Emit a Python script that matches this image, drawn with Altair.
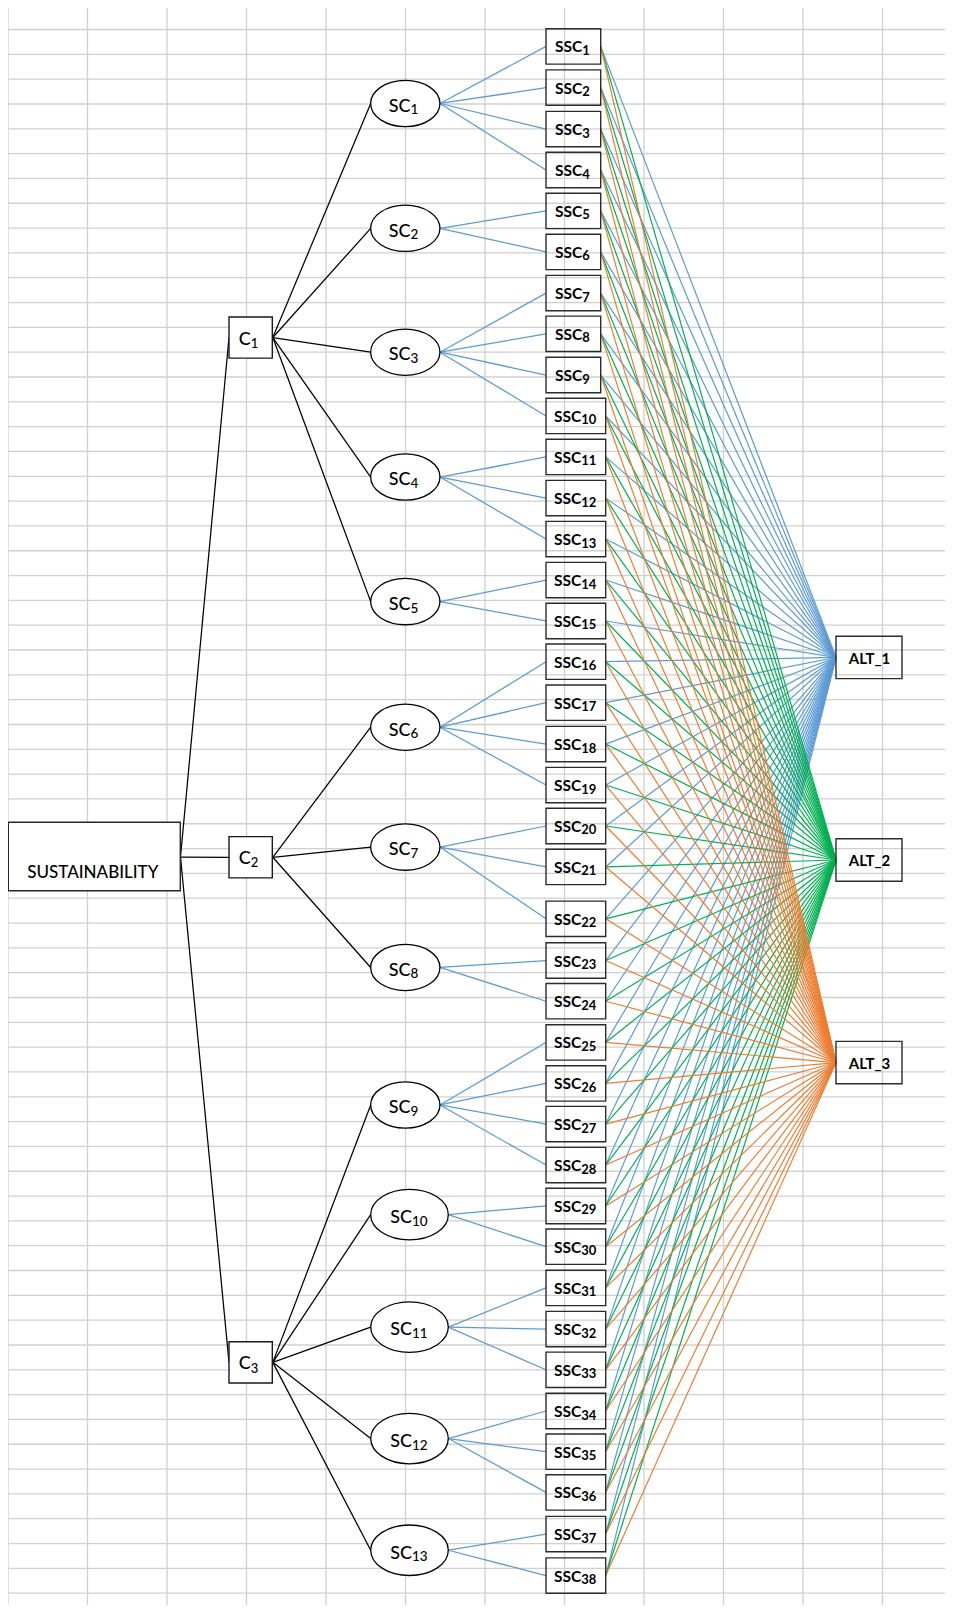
import altair as alt
import pandas as pd

# ---------------- data (positions in spreadsheet cell units) ----------------
grid_cols = [0, 1, 2, 3, 4, 5, 6, 7, 8, 9, 10, 11]
grid_rows = [1, 2, 3, 4, 5, 6, 7, 8, 9, 10, 11, 12, 13, 14, 15, 16, 17, 18, 19, 20,
             21, 22, 23, 24, 25, 26, 27, 28, 29, 30, 31, 32, 33, 34, 35, 36, 37, 38, 39, 40,
             41, 42, 43, 44, 45, 46, 47, 48, 49, 50, 51, 52, 53, 54, 55, 56, 57, 58, 59, 60,
             61, 62, 63, 64]

root_label = "SUSTAINABILITY"
root_row = 34.32

c_nums = [1, 2, 3]
c_rows = [13.41, 34.35, 54.70]

sc_nums = [1, 2, 3, 4, 5, 6, 7, 8, 9, 10, 11, 12, 13]
sc_parent = [1, 1, 1, 1, 1, 2, 2, 2, 3, 3, 3, 3, 3]
sc_rows = [3.98, 9.01, 14.00, 19.03, 24.05, 29.11, 33.94, 38.79, 44.33, 48.75, 53.28, 57.77, 62.27]

ssc_nums = list(range(1, 39))
ssc_parent = [1, 1, 1, 1, 2, 2, 3, 3, 3, 3, 4, 4, 4, 5, 5, 6, 6, 6, 6, 7, 7, 7,
              8, 8, 9, 9, 9, 9, 10, 10, 11, 11, 11, 12, 12, 12, 13, 13]
ssc_rows = [1.68, 3.34, 5.01, 6.66, 8.31, 9.96, 11.62, 13.26, 14.92, 16.57,
            18.22, 19.88, 21.53, 23.18, 24.83, 26.47, 28.12, 29.79, 31.44, 33.09,
            34.74, 36.83, 38.51, 40.15, 41.81, 43.46, 45.10, 46.75, 48.40, 50.04,
            51.70, 53.36, 55.00, 56.66, 58.30, 59.94, 61.62, 63.29]

alt_labels = ["ALT_1", "ALT_2", "ALT_3"]
alt_rows = [26.30, 34.46, 42.62]
alt_colors = ["#5B9BD5", "#00B050", "#ED7D31"]

# ---------------- layout helpers ----------------
CELL_W, CELL_H = 79.5, 24.82
GRID_LEFT, GRID_TOP = 8.0, 4.7


def col(px):
    return (px - GRID_LEFT) / CELL_W


def rws(px):
    return px / CELL_H


W, H = 937, 1597
xs = alt.Scale(domain=[col(8), col(8 + W)], nice=False, zero=False)
ys = alt.Scale(domain=[(8 - GRID_TOP) / CELL_H, (8 + H - GRID_TOP) / CELL_H],
               nice=False, zero=False, reverse=True)


def X(f):
    return alt.X(f, type="quantitative", scale=xs, axis=None)


def Y(f):
    return alt.Y(f, type="quantitative", scale=ys, axis=None)


FONT = "Lato"

# ---------------- grid ----------------
vgrid = alt.Chart(pd.DataFrame({"x": grid_cols})).mark_rule(
    color="#d0d0d0", strokeWidth=1.3).encode(x=X("x"))
hgrid = alt.Chart(pd.DataFrame({"y": grid_rows})).mark_rule(
    color="#d0d0d0", strokeWidth=1.3).encode(y=Y("y"))

# ---------------- edges ----------------
black = []
for n, r in zip(c_nums, c_rows):
    black.append({"x": col(180.5), "y": root_row + rws(0.5), "x2": col(229), "y2": r})
for n, p, r in zip(sc_nums, sc_parent, sc_rows):
    black.append({"x": col(272.8), "y": c_rows[p - 1], "x2": col(370.7), "y2": r})
black_df = pd.DataFrame(black)

blue = []
for n, p, r in zip(ssc_nums, ssc_parent, ssc_rows):
    sc_right = col(440) if sc_nums[p - 1] < 10 else col(448.3)
    blue.append({"x": sc_right, "y": sc_rows[p - 1], "x2": col(546), "y2": r})
blue_df = pd.DataFrame(blue)


def seg_chart(df, color, width):
    return alt.Chart(df).mark_rule(color=color, strokeWidth=width).encode(
        x=X("x"), y=Y("y"), x2=alt.X2("x2"), y2=alt.Y2("y2"))


layers = [vgrid, hgrid, seg_chart(black_df, "#000000", 1.25),
          seg_chart(blue_df, "#5B9BD5", 1.25)]

for k, (arow, acol) in enumerate(zip(alt_rows, alt_colors)):
    rows_ = []
    for n, r in zip(ssc_nums, ssc_rows):
        right = col(600.7) if n < 10 else col(605.7)
        rows_.append({"x": right, "y": r, "x2": col(836), "y2": arow})
    layers.append(seg_chart(pd.DataFrame(rows_), acol, 1.2))

# ---------------- boxes ----------------
root_df = pd.DataFrame([{"x": col(8.3), "x2": col(180.3),
                         "y": root_row - rws(34.2), "y2": root_row + rws(34.2),
                         "cx": col(92.8), "cy": root_row, "label": root_label}])
c_df = pd.DataFrame([{"x": col(229), "x2": col(272.3), "y": r - rws(20.6), "y2": r + rws(20.6),
                      "sx": col(250.8), "cy": r, "base": "C", "sub": str(n)}
                     for n, r in zip(c_nums, c_rows)])
ssc_df = pd.DataFrame([{"x": col(546), "x2": col(600.7) if n < 10 else col(605.7),
                        "y": r - rws(17.7), "y2": r + rws(17.7),
                        "sx": col(582.3) if n < 10 else col(581.2), "cy": r,
                        "base": "SSC", "sub": str(n)}
                       for n, r in zip(ssc_nums, ssc_rows)])
alt_df = pd.DataFrame([{"x": col(836), "x2": col(902), "y": r - rws(21.2), "y2": r + rws(21.2),
                        "cx": col(869.5), "cy": r, "label": l}
                       for l, r in zip(alt_labels, alt_rows)])


def rect_chart(df, fill, stroke, width):
    return alt.Chart(df).mark_rect(fill=fill, stroke=stroke, strokeWidth=width).encode(
        x=X("x"), x2=alt.X2("x2"), y=Y("y"), y2=alt.Y2("y2"))


layers.append(rect_chart(root_df, "white", "#262626", 1.4))
layers.append(rect_chart(c_df, "white", "#1a1a1a", 1.4))

# ---------------- ellipses ----------------


def ellipse_path(ry):
    k = 0.5523
    return (f"M -1 0 C -1 {-k*ry:.4f} {-k:.4f} {-ry:.4f} 0 {-ry:.4f} "
            f"C {k:.4f} {-ry:.4f} 1 {-k*ry:.4f} 1 0 "
            f"C 1 {k*ry:.4f} {k:.4f} {ry:.4f} 0 {ry:.4f} "
            f"C {-k:.4f} {ry:.4f} -1 {k*ry:.4f} -1 0 Z")


sc_df = pd.DataFrame([{"cx": col(405.3) if n < 10 else col(409.5), "cy": r,
                       "sx": col(410.6) if n < 10 else col(412.0),
                       "base": "SC", "sub": str(n), "one": n < 10}
                      for n, r in zip(sc_nums, sc_rows)])

layers.append(alt.Chart(sc_df[sc_df["one"]]).mark_point(
    shape=ellipse_path(0.668), size=69.3 ** 2, filled=True, fill="white", stroke="black",
    strokeWidth=1.3, opacity=1).encode(x=X("cx"), y=Y("cy")))
layers.append(alt.Chart(sc_df[~sc_df["one"]]).mark_point(
    shape=ellipse_path(0.651), size=77.6 ** 2, filled=True, fill="white", stroke="black",
    strokeWidth=1.3, opacity=1).encode(x=X("cx"), y=Y("cy")))

layers.append(rect_chart(ssc_df, "transparent", "#2b2b2b", 1.4))
layers.append(rect_chart(alt_df, "transparent", "#2b2b2b", 1.4))

# ---------------- text ----------------


def text_chart(df, xf, tf, align, dy, size, weight):
    return alt.Chart(df).mark_text(align=align, baseline="alphabetic", dy=dy, font=FONT,
                                   fontSize=size, fontWeight=weight, color="black").encode(
        x=X(xf), y=Y("cy"), text=alt.Text(tf, type="nominal"))


layers += [
    text_chart(root_df, "cx", "label", "center", 21.5, 17, 500),
    text_chart(c_df, "sx", "base", "right", 7.0, 18, 500),
    text_chart(c_df, "sx", "sub", "left", 10.2, 13, 500),
    text_chart(sc_df, "sx", "base", "right", 8.3, 18, 500),
    text_chart(sc_df, "sx", "sub", "left", 11.0, 13.5, 500),
    text_chart(ssc_df, "sx", "base", "right", 6.0, 15.5, "bold"),
    text_chart(ssc_df, "sx", "sub", "left", 8.5, 13, "bold"),
    text_chart(alt_df, "cx", "label", "center", 6.5, 15, "bold"),
]

chart = alt.layer(*layers).properties(
    width=W, height=H, autosize=alt.AutoSizeParams(type="none"), padding=0,
    background="white"
).configure_view(strokeWidth=0)

chart.save("out.html", embed_options={"renderer": "svg", "actions": False})
